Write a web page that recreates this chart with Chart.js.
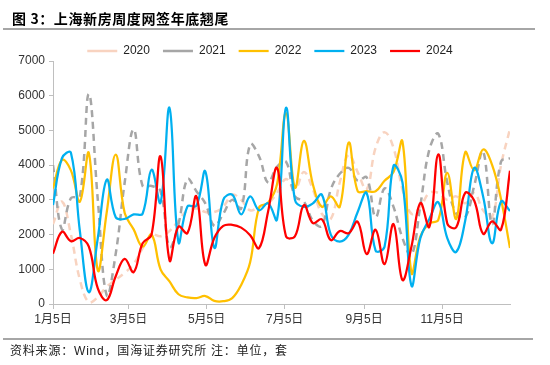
<!DOCTYPE html>
<html>
<head>
<meta charset="utf-8">
<script src="https://cdn.jsdelivr.net/npm/chart.js@4.4.1/dist/chart.umd.min.js"></script>
<style>
html,body{margin:0;padding:0;background:#fff;}
#wrap{position:relative;width:550px;height:365px;overflow:hidden;background:#fff;}
#title{position:absolute;left:12px;top:9px;font:bold 14px "Noto Sans CJK SC","Liberation Sans",sans-serif;letter-spacing:0.6px;color:#000;white-space:nowrap;line-height:18px;}
#tline{position:absolute;left:3px;top:28px;width:532px;height:2px;background:#a6a6a6;}
#bline{position:absolute;left:3px;top:338px;width:530px;height:2px;background:#a6a6a6;}
#foot{position:absolute;left:10px;top:343px;font:12px "Liberation Sans","Noto Sans CJK SC",sans-serif;color:#222;white-space:nowrap;line-height:17px;letter-spacing:0.8px;}
canvas{position:absolute;left:0;top:0;}
</style>
</head>
<body>
<div id="wrap">
  <canvas id="c" width="550" height="365"></canvas>
  <div id="title">图 3：上海新房周度网签年底翘尾</div>
  <div id="tline"></div>
  <div id="bline"></div>
  <div id="foot">资料来源：Wind，国海证券研究所 注：单位，套</div>
</div>
<script>
// ---- data (weekly, 52 weeks) ----
const seriesNames = ['2020', '2021', '2022', '2023', '2024'];
const tickDays = [0, 59, 120, 181, 243, 304]; // days after Jan 5
const tickLabels = ['1月5日', '3月5日', '5月5日', '7月5日', '9月5日', '11月5日'];

const s2020 = [2300, 2950, 2000, 700, 50, 200, 500, 700, 900, 1150,
  1600, 2000, 1950, 2100, 2400, 2700, 2750, 2650, 2650, 2800,
  3150, 3000, 2700, 2800, 2900, 3200, 3600, 3300, 3800, 3300,
  2600, 2450, 3500, 4300, 3800, 3300, 4500, 4950, 4500, 3300,
  2600, 2800, 3200, 3200, 3000, 3100, 2900, 3200, 2700, 2500,
  4000, 5050];
const s2021 = [4000, 2150, 3050, 3100, 6050, 3000, 250, 1450, 3500, 5030,
  3400, 3400, 3250, 1650, 2300, 3600, 3250, 2900, 2250, 2600,
  3000, 2750, 4600, 4250, 3500, 3950, 4100, 3100, 2950, 2400,
  2250, 3300, 3750, 3920, 3550, 3650, 2500, 3330, 2800, 1900,
  1400, 2850, 4450, 4900, 3500, 2600, 2500, 3400, 4400, 2300,
  4100, 4200];
const s2022 = [3330, 4150, 3850, 2950, 4350, 970, 2650, 4300, 2620, 2150,
  1650, 2000, 1000, 650, 280, 190, 170, 230, 90, 80,
  170, 550, 1200, 2780, 2920, 3450, 5500, 3350, 4700, 3450,
  2800, 3100, 2800, 4650, 3250, 3250, 3250, 3550, 3800, 4680,
  900, 1950, 2320, 2420, 3780, 2450, 4370, 3850, 4450, 4010,
  3020, 1610];
const s2023 = [2850, 4200, 4360, 2100, 340, 1900, 3580, 2500, 2450, 2580,
  2600, 3870, 2920, 5650, 1780, 2810, 2830, 3820, 1620, 3000,
  3150, 2580, 3100, 2700, 2900, 2430, 5650, 3000, 2800, 2900,
  3150, 2000, 1800, 2000, 2650, 3200, 1540, 1650, 3980, 3500,
  530, 1900, 2450, 2930, 1900, 1500, 2400, 3920, 3100, 1750,
  2950, 2680];
const s2024 = [1450, 2080, 1810, 1900, 1650, 450, 110, 800, 1300, 920,
  1750, 2000, 4250, 1260, 2230, 2040, 3100, 1130, 1900, 2250,
  2280, 2200, 1980, 1610, 2660, 3920, 1950, 1950, 2850, 2330,
  2440, 1840, 2100, 2040, 2370, 1440, 2140, 1150, 2300, 690,
  1650, 2910, 2220, 4310, 2320, 2210, 3200, 2980, 2020, 2380,
  2140, 3840];

const allSeries = [s2020, s2021, s2022, s2023, s2024];
const colors = ['#F8D3C0', '#A6A6A6', '#FFC000', '#00B0F0', '#FF0000'];
const dashes = [[7, 5], [7, 5], [], [], []];
const widths = [2.5, 2.5, 2.25, 2.25, 2.25];
const FONT = '"Liberation Sans", Arial, "Noto Sans CJK SC", sans-serif';

// legend: tighter box height and a small horizontal shift to sit where the reference's legend sits
const legendFit = {
  id: 'legendFit',
  afterInit(chart) {
    const lg = chart.legend;
    if (lg) {
      const origFit = lg.fit;
      lg.fit = function () { origFit.call(this); this.height = 29; };
      const origDraw = lg.draw;
      lg.draw = function () {
        const ctx = this.ctx;
        ctx.save();
        ctx.translate(10, 0);
        origDraw.call(this);
        ctx.restore();
      };
    }
  }
};

new Chart(document.getElementById('c'), {
  type: 'line',
  data: {
    datasets: seriesNames.map((name, k) => ({
      label: name,
      data: allSeries[k].map((v, i) => ({ x: i, y: v })),
      borderColor: colors[k],
      backgroundColor: colors[k],
      borderWidth: widths[k],
      borderDash: dashes[k],
      pointRadius: 0,
      pointHoverRadius: 0,
      pointStyle: 'line',
      tension: 0.4,
      fill: false,
      order: 5 - k
    }))
  },
  options: {
    responsive: false,
    animation: false,
    devicePixelRatio: 1,
    layout: { padding: { top: 32, left: 10, right: 40, bottom: 31 } },
    plugins: {
      legend: {
        display: true,
        position: 'top',
        labels: {
          usePointStyle: true,
          pointStyleWidth: 30,
          boxHeight: 12,
          padding: 13,
          color: '#222',
          font: { size: 12, family: FONT },
          sort: (a, b) => a.datasetIndex - b.datasetIndex
        }
      },
      tooltip: { enabled: false },
      title: { display: false }
    },
    scales: {
      x: {
        type: 'linear',
        min: 0,
        max: allSeries[0].length - 1,
        afterBuildTicks: s => { s.ticks = tickDays.map(d => ({ value: d / 7 })); },
        afterFit: s => { s.height = 30; },
        ticks: {
          callback: (v, i) => tickLabels[i],
          autoSkip: false,
          maxRotation: 0,
          minRotation: 0,
          padding: 3,
          color: '#333',
          font: { size: 12, family: FONT }
        },
        grid: { display: true, drawOnChartArea: false, drawTicks: true, tickLength: 5, color: '#bfbfbf' },
        border: { display: true, color: '#bfbfbf', width: 1 }
      },
      y: {
        min: 0,
        max: 7000,
        afterFit: s => { s.width = 43; },
        ticks: { stepSize: 1000, padding: 4, color: '#333', font: { size: 12, family: FONT }, callback: v => String(v) },
        grid: { display: true, drawOnChartArea: false, drawTicks: true, tickLength: 4, color: '#bfbfbf' },
        border: { display: true, color: '#bfbfbf', width: 1 }
      }
    }
  },
  plugins: [legendFit]
});
</script>
</body>
</html>
